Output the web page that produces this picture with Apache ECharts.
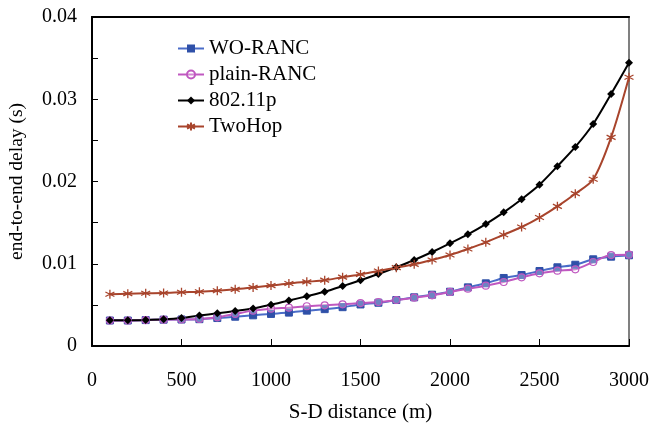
<!DOCTYPE html>
<html>
<head>
<meta charset="utf-8">
<script src="https://cdn.jsdelivr.net/npm/echarts@6/dist/echarts.min.js"></script>
<style>html,body{margin:0;padding:0;background:#fff}#c{width:652px;height:428px}</style>
</head>
<body>
<div id="c"></div>
<script>
var distances = [100,200,300,400,500,600,700,800,900,1000,1100,1200,1300,1400,1500,1600,1700,1800,1900,2000,2100,2200,2300,2400,2500,2600,2700,2800,2900,3000];
var woRanc = [0.0031,0.0031,0.00315,0.0032,0.00322,0.00326,0.0034,0.00356,0.00373,0.0039,0.00406,0.0043,0.00448,0.00472,0.00505,0.00526,0.00559,0.00592,0.00624,0.0066,0.00713,0.00762,0.00827,0.00863,0.00912,0.00957,0.00988,0.01054,0.01086,0.01103];
var plainRanc = [0.0031,0.0031,0.00315,0.0032,0.00322,0.00328,0.00349,0.0039,0.0043,0.00454,0.00466,0.00483,0.00495,0.00507,0.00522,0.00535,0.00559,0.00587,0.00616,0.00657,0.00697,0.00733,0.00778,0.00835,0.00884,0.00916,0.00932,0.01021,0.01106,0.0111];
var p80211 = [0.00312,0.00312,0.00316,0.00324,0.0034,0.0037,0.00397,0.00426,0.00456,0.00502,0.00553,0.00606,0.0066,0.00728,0.008,0.00875,0.00957,0.01046,0.01143,0.01249,0.01358,0.01483,0.01625,0.01785,0.01961,0.02185,0.0242,0.02699,0.03064,0.03444];
var twoHop = [0.00629,0.00636,0.00641,0.00644,0.00653,0.0066,0.00672,0.00689,0.00712,0.00735,0.0076,0.0078,0.008,0.00837,0.0087,0.00912,0.00952,0.00993,0.01046,0.01106,0.01179,0.0126,0.01353,0.01447,0.01562,0.01698,0.01852,0.02027,0.02537,0.03267];
var seriesNames = ['WO-RANC','plain-RANC','802.11p','TwoHop'];
var xTicks = [0,500,1000,1500,2000,2500,3000];
var yTicks = [0,0.01,0.02,0.03,0.04];

function pairs(vals){ return distances.map(function(d,i){ return [d, vals[i]]; }); }
var FONT = '"Liberation Serif", "Times New Roman", serif';
var star = 'path://M0,-6L0,6M-5,-3L5,3M-5,3L5,-3';

var chart = echarts.init(document.getElementById('c'));
chart.setOption({
  animation: false,
  backgroundColor: '#fff',
  textStyle: {fontFamily: FONT},
  grid: {left: 92, right: 23, top: 17, bottom: 82, containLabel: false, outerBoundsMode: 'none',
    show: true, borderColor: '#808080', borderWidth: 2, backgroundColor: 'transparent'},
  legend: {
    orient: 'vertical', left: 172, top: 33, itemGap: 5, itemWidth: 26, itemHeight: 10,
    textStyle: {fontFamily: FONT, fontSize: 21, color: '#000'},
    data: seriesNames
  },
  xAxis: [{
    type: 'value', min: xTicks[0], max: xTicks[xTicks.length-1], interval: 500,
    name: 'S-D distance (m)', nameLocation: 'middle', nameGap: 56,
    nameTextStyle: {fontFamily: FONT, fontSize: 21, color: '#000'},
    axisLine: {show: true, lineStyle: {color: '#000', width: 2}},
    axisTick: {show: true, inside: true, length: 7, lineStyle: {color: '#000', width: 1}},
    axisLabel: {fontFamily: FONT, fontSize: 20, color: '#000', margin: 25,
      formatter: function(v){ return String(v); }},
    splitLine: {show: false}
  },{
    type: 'value', position: 'top', min: 0, max: 3000,
    axisLine: {show: true, lineStyle: {color: '#000', width: 2}},
    axisTick: {show: false}, axisLabel: {show: false}, splitLine: {show: false}
  }],
  yAxis: {
    type: 'value', min: 0, max: yTicks[yTicks.length-1], interval: 0.005,
    name: 'end-to-end delay (s)', nameLocation: 'middle', nameGap: 65, nameRotate: 90,
    nameTextStyle: {fontFamily: FONT, fontSize: 19.5, color: '#000'},
    axisLine: {show: true, lineStyle: {color: '#000', width: 2}},
    axisTick: {show: true, inside: true, length: 6, lineStyle: {color: '#000', width: 1}},
    axisLabel: {fontFamily: FONT, fontSize: 20, color: '#000', margin: 15,
      formatter: function(v){
        for (var i=0;i<yTicks.length;i++){ if (Math.abs(v-yTicks[i])<1e-9) return String(yTicks[i]); }
        return '';
      }},
    splitLine: {show: false}
  },
  series: [
    {name: seriesNames[0], type: 'line', data: pairs(woRanc), smooth: 0.3, symbol: 'rect', symbolSize: 7,
      lineStyle: {color: '#4A6CC8', width: 2}, itemStyle: {color: '#2F50A8', borderColor: '#2F50A8'}},
    {name: seriesNames[1], type: 'line', data: pairs(plainRanc), smooth: 0.3, symbol: 'circle', symbolSize: 7,
      lineStyle: {color: '#C058C0', width: 2}, itemStyle: {color: 'rgba(255,255,255,0.3)', borderColor: '#C058C0', borderWidth: 1.2}},
    {name: seriesNames[2], type: 'line', data: pairs(p80211), smooth: 0.3, symbol: 'diamond', symbolSize: 8,
      lineStyle: {color: '#000', width: 2}, itemStyle: {color: '#000'}},
    {name: seriesNames[3], type: 'line', data: pairs(twoHop), smooth: 0.3, symbol: star, symbolSize: 9,
      lineStyle: {color: '#A8442C', width: 2}, itemStyle: {color: '#A8442C', borderColor: '#A8442C', borderWidth: 1.3}}
  ]
});
</script>
</body>
</html>
